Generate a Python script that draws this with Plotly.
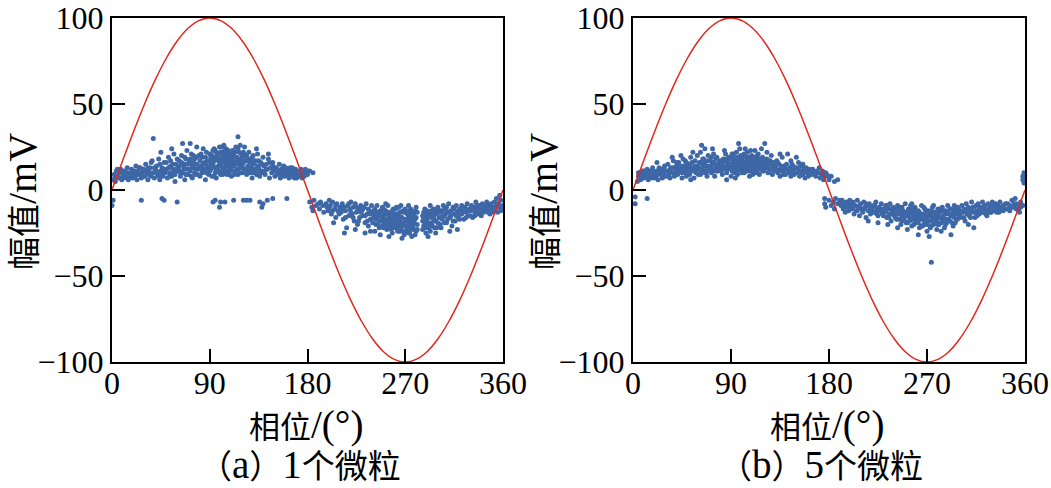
import plotly.graph_objects as go

# ---------------- data ----------------
sine_phase = list(range(0, 361, 10))
sine_amp = [0, 17.4, 34.2, 50, 64.3, 76.6, 86.6, 94, 98.5, 100, 98.5, 94, 86.6, 76.6, 64.3, 50, 34.2, 17.4,
            0, -17.4, -34.2, -50, -64.3, -76.6, -86.6, -94, -98.5, -100, -98.5, -94, -86.6, -76.6, -64.3, -50, -34.2, -17.4, 0]

# panel (a): 1 particle, (phase deg, amplitude mV)
a_pos = [(1,6),(2,9),(3,5),(4,11),(5,8),(6,7),(7,10),(8,12),(9,6),(10,9),
(11,7),(12,11),(13,8),(14,13),(15,6),(16,10),(17,9),(18,12),(19,7),(20,10),
(21,8),(22,14),(23,6),(24,11),(25,9),(26,13),(27,7),(28,10),(29,12),(30,8),
(31,15),(32,9),(33,6),(34,11),(35,13),(36,8),(37,17),(38,10),(39,7),(40,12),(38,30),
(41,14),(42,9),(43,18),(44,6),(45,11),(46,13),(47,8),(48,16),(49,10),(50,12),(45,22),
(51,7),(52,19),(53,10),(54,14),(55,8),(56,12),(57,21),(58,9),(59,15),(60,11),(55,24),(58,5),
(61,13),(62,17),(63,8),(64,20),(65,10),(66,14),(67,6),(68,18),(69,12),(70,9),(65,27),(69,23),(62,11),(67,15),
(71,16),(72,11),(73,21),(74,7),(75,13),(76,18),(77,9),(78,15),(79,12),(80,20),(72,27),(78,25),(74,14),(76,10),
(81,8),(82,14),(83,19),(84,11),(85,16),(86,6),(87,22),(88,13),(89,9),(90,17),(84,24),(82,12),(86,15),(88,10),
(91,12),(92,20),(93,15),(94,8),(95,23),(96,11),(97,18),(98,14),(99,25),(100,9),(91,16),(93,19),(95,13),(97,21),(99,10),(94,24),(96,7),(98,17),
(101,22),(102,13),(103,17),(104,10),(105,24),(106,15),(107,19),(108,12),(109,21),(110,8),(101,11),(103,26),(105,14),(107,11),(109,16),(102,19),(104,23),(106,9),
(111,14),(112,20),(113,11),(114,25),(115,17),(116,9),(117,22),(118,13),(119,18),(120,10),(111,23),(113,16),(115,12),(117,15),(119,21),(116,31),(118,26),
(121,16),(122,12),(123,20),(124,9),(125,14),(126,22),(127,11),(128,18),(129,7),(130,15),(122,25),(124,17),(126,13),(128,10),(130,20),
(131,12),(132,17),(133,9),(134,21),(135,13),(136,8),(137,16),(138,11),(139,19),(140,14),(133,24),(137,10),
(141,9),(142,15),(143,12),(144,18),(145,7),(146,13),(147,10),(148,16),(149,11),(150,8),(144,21),(148,14),
(151,13),(152,9),(153,11),(154,15),(155,7),(156,12),(157,10),(158,14),(159,8),(160,11),
(161,9),(162,12),(163,7),(164,13),(165,10),(166,8),(167,11),(168,9),(169,12),(170,7),
(171,10),(172,8),(173,11),(174,9),(175,7),(176,10),(177,8),(178,12),(180,9),(182,11),(185,10),
(1,-6),(0,-9),(27,-6),(46,-5),(48,-6),(60,-7),(93,-7),(95,-6),(99,-10),(100,-7),(104,-7),(112,-6),
(121,-6),(124,-6),(127,-6),(136,-7),(138,-10),(139,-8),(143,-6),(148,-5),(161,-5)]

a_pos_core = [(62,14),(63,10),(64,16),(66,12),(67,19),(68,9),(70,15),(71,12),(72,18),(73,8),(75,16),(75,20),(77,12),(78,19),(79,9),(80,14),
(81,17),(82,21),(83,10),(84,15),(85,12),(86,19),(87,10),(88,17),(89,14),(90,11),(90,21),(91,19),(92,14),(92,8),(93,23),(94,17),(95,10),
(96,19),(96,22),(97,13),(98,20),(98,11),(99,16),(100,22),(100,14),(101,18),(101,25),(102,16),(102,9),(103,13),(103,21),(104,18),(105,11),
(105,19),(106,21),(106,17),(107,14),(107,23),(108,18),(108,9),(109,13),(110,15),(110,20),(111,11),(111,18),(112,14),(113,22),(113,9),
(114,15),(115,19),(116,12),(116,24),(117,18),(118,10),(118,16),(119,13),(120,19),(120,14),(121,22),(122,17),(123,11),(124,20),(125,18),
(126,10),(127,16),(128,13),(129,19),(130,10),(131,16),(132,11),(134,14),(135,17),(136,11),(138,15),(140,10),(142,12),(145,16),(147,13),(150,12),
(3,8),(5,12),(8,7),(10,11),(13,10),(16,7),(18,9),(21,11),(23,9),(25,13),(27,10),(29,8),(31,11),(33,13),(35,9),(36,16),(39,13),(41,11),
(43,8),(44,15),(46,10),(48,12),(50,16),(52,13),(53,8),(54,17),(56,15),(57,10),(59,12),(60,18),
(152,12),(154,10),(156,8),(158,11),(160,13),(162,9),(164,11),(166,13),(168,7),(170,11),(172,10),(174,12),(176,8),(178,10),(180,11)]

a_neg = [(182,-7),(184,-10),(186,-6),(188,-9),(190,-8),(185,-12),
(191,-11),(192,-7),(194,-9),(195,-13),(197,-8),(198,-10),(200,-6),(199,-12),
(201,-9),(202,-14),(203,-7),(205,-11),(206,-16),(207,-8),(208,-12),(210,-10),(204,-19),
(211,-13),(212,-8),(213,-17),(214,-10),(215,-12),(216,-22),(217,-9),(218,-15),(219,-11),(220,-7),(214,-25),
(221,-14),(222,-10),(223,-18),(224,-8),(225,-13),(226,-20),(227,-11),(228,-16),(229,-9),(230,-12),(224,-23),
(231,-15),(232,-10),(233,-19),(234,-8),(235,-14),(236,-21),(237,-12),(238,-17),(239,-9),(240,-13),(233,-25),(238,-24),
(241,-16),(242,-11),(243,-20),(244,-9),(245,-14),(246,-22),(247,-12),(248,-18),(249,-10),(250,-15),(242,-24),(247,-26),(244,-17),(249,-21),
(251,-19),(252,-12),(253,-23),(254,-9),(255,-16),(256,-21),(257,-13),(258,-25),(259,-11),(260,-18),(251,-14),(253,-17),(255,-27),(257,-20),(259,-15),(252,-8),
(261,-22),(262,-14),(263,-19),(264,-10),(265,-24),(266,-16),(267,-20),(268,-12),(269,-26),(270,-17),(261,-11),(263,-15),(265,-13),(267,-28),(269,-21),(262,-18),(264,-23),(266,-9),
(271,-13),(272,-22),(273,-16),(274,-25),(275,-11),(276,-19),(277,-14),(278,-23),(279,-17),(280,-10),(281,-20),(272,-18),(274,-12),(276,-27),(278,-15),(280,-24),(273,-9),(275,-21),
(286,-15),(287,-21),(288,-11),(289,-25),(290,-17),(291,-13),(292,-22),(293,-9),(294,-19),(295,-14),(287,-17),(289,-12),(291,-27),(293,-20),(286,-23),
(296,-11),(297,-18),(298,-14),(299,-22),(300,-10),(301,-16),(302,-20),(303,-12),(304,-17),(305,-9),(298,-25),(302,-13),
(306,-15),(307,-11),(308,-19),(309,-13),(310,-8),(311,-16),(312,-12),(313,-21),(314,-10),(315,-14),(316,-18),(317,-9),(318,-13),(319,-16),(320,-11),(311,-24),(318,-23),
(321,-14),(322,-9),(323,-12),(324,-17),(325,-10),(326,-13),(327,-8),(328,-15),(329,-11),(330,-12),(331,-9),(332,-16),(333,-10),(334,-13),(335,-7),(336,-11),(337,-14),(338,-9),(339,-12),(340,-10),
(341,-8),(342,-13),(343,-10),(344,-12),(345,-7),(346,-11),(347,-9),(348,-14),(349,-8),(350,-10),(351,-12),(352,-7),(353,-11),(354,-9),(355,-13),(356,-8),(357,-10),(358,-6),(359,-11),(360,-9),(354,-5),(357,-3)]

a_neg_core = [(200,-10),(203,-12),(206,-9),(209,-14),(212,-11),(215,-16),(218,-8),(220,-13),(222,-16),(225,-10),(227,-18),(229,-13),
(231,-11),(233,-15),(235,-18),(236,-11),(238,-14),(240,-19),(241,-12),(242,-15),(243,-17),(244,-13),(245,-20),(246,-15),(247,-18),(248,-13),
(249,-16),(250,-22),(250,-11),(251,-17),(252,-21),(253,-14),(254,-19),(254,-13),(255,-22),(256,-15),(256,-18),(257,-23),(258,-16),(258,-12),
(259,-20),(260,-14),(260,-22),(261,-17),(262,-21),(262,-10),(263,-24),(264,-16),(264,-20),(265,-18),(266,-22),(266,-13),(267,-16),(268,-24),
(268,-19),(269,-13),(270,-21),(270,-11),(271,-18),(271,-24),(272,-14),(273,-20),(273,-25),(274,-18),(275,-15),(275,-23),(276,-13),(277,-21),
(277,-17),(278,-19),(279,-12),(279,-26),(280,-16),(281,-13),(281,-23),(286,-18),(287,-13),(288,-20),(288,-15),(289,-18),(290,-22),(290,-12),
(291,-19),(292,-15),(293,-24),(294,-12),(294,-16),(295,-21),(296,-16),(297,-13),(297,-22),(298,-18),(299,-12),(300,-19),(301,-13),(302,-16),
(303,-22),(304,-12),(305,-15),(306,-19),(307,-14),(308,-10),(309,-17),(310,-13),(312,-15),(314,-18),(315,-11),(317,-15),(319,-12),(320,-17),
(322,-14),(324,-11),(326,-16),(328,-12),(330,-15),(332,-11),(334,-15),(336,-9),(338,-13),(340,-15),(342,-11),(344,-9),(346,-13),(348,-11),
(350,-13),(352,-10),(355,-8),(358,-12)]

# panel (b): 5 particles
b_pos = [(5,8),(6,10),(7,6),(8,9),(9,11),(10,7),(4,5),
(11,10),(12,8),(13,12),(14,6),(15,9),(16,11),(17,7),(18,13),(19,9),(20,10),(22,16),
(21,8),(22,11),(23,6),(24,13),(25,9),(26,10),(27,7),(28,12),(29,14),(30,8),
(31,11),(32,15),(33,9),(34,7),(35,13),(36,10),(37,17),(38,8),(39,12),(40,14),(36,19),
(41,9),(42,16),(43,11),(44,13),(45,7),(46,18),(47,10),(48,14),(49,8),(50,12),(44,20),(48,17),
(51,15),(52,9),(53,19),(54,11),(55,13),(56,7),(57,17),(58,10),(59,14),(60,12),(55,22),(59,20),(53,6),
(61,16),(62,9),(63,26),(64,12),(65,18),(66,10),(67,14),(68,8),(69,20),(70,13),(62,22),(66,24),(64,15),(68,11),
(71,17),(72,10),(73,15),(74,21),(75,8),(76,13),(77,19),(78,11),(79,16),(80,12),(73,24),(77,14),
(81,14),(82,9),(83,18),(84,12),(85,21),(86,10),(87,16),(88,13),(89,19),(90,8),(84,23),(88,15),(82,17),(86,6),
(91,15),(92,11),(93,19),(94,13),(95,22),(96,9),(97,17),(98,14),(99,20),(100,12),(91,18),(93,10),(95,16),(97,27),(99,13),(92,21),(94,7),(96,14),(98,24),
(101,16),(102,10),(103,19),(104,13),(105,22),(106,11),(107,17),(108,14),(109,20),(110,9),(101,12),(103,24),(105,15),(107,8),(109,18),(102,21),(104,16),(106,13),(108,23),
(111,15),(112,10),(113,18),(114,12),(115,21),(116,9),(117,16),(118,13),(119,19),(120,11),(112,23),(114,17),(116,14),(118,24),(120,15),
(121,27),(122,13),(123,18),(124,10),(125,15),(126,12),(127,20),(128,9),(129,14),(130,11),(123,22),(127,16),
(131,13),(132,17),(133,10),(134,15),(135,8),(136,12),(137,19),(138,11),(139,14),(140,9),(135,21),
(141,12),(142,21),(143,10),(144,13),(145,8),(146,15),(147,11),(148,9),(149,13),(150,19),(145,17),
(151,10),(152,12),(153,8),(154,14),(155,11),(156,9),(157,13),(158,7),(159,11),(160,10),(162,12),(164,9),(152,16),(156,15),
(166,11),(168,8),(170,10),(172,7),(174,11),(176,8),(178,9),(180,6),(182,8),(185,5),(188,6),(171,13),(175,6),
(2,-4),(2,-8),(13,-5),(358,8),(358,6),(359,4),(359,10)]

b_pos_core = [(5,10),(8,7),(10,11),(12,9),(14,10),(16,8),(18,11),(20,7),(22,9),(24,10),(26,12),(28,9),(30,11),(32,8),(34,12),(35,10),
(37,13),(39,10),(40,16),(42,12),(43,14),(45,10),(46,14),(47,12),(49,16),(50,10),(52,14),(53,12),(54,16),(56,11),(57,14),(58,12),(60,9),
(61,13),(62,16),(63,11),(64,18),(65,13),(66,16),(67,10),(68,14),(69,17),(70,11),(71,14),(72,19),(73,12),(74,16),(75,11),(76,18),(77,11),
(78,15),(79,13),(80,17),(81,11),(82,15),(83,13),(84,17),(85,14),(86,18),(87,12),(88,19),(89,15),(90,13),(90,18),(91,11),(91,21),(92,16),
(93,13),(93,17),(94,19),(94,11),(95,14),(96,17),(96,11),(97,19),(97,14),(98,12),(98,17),(99,15),(100,18),(100,10),(101,14),(101,20),(102,16),
(103,12),(103,16),(104,19),(104,11),(105,17),(106,15),(106,19),(107,13),(108,17),(108,11),(109,15),(110,18),(110,13),(111,12),(111,19),
(112,16),(113,14),(114,20),(114,10),(115,16),(116,18),(117,12),(118,15),(119,11),(120,17),(121,13),(122,16),(124,14),(125,11),(126,17),
(128,12),(129,16),(130,14),(132,12),(133,16),(134,11),(136,14),(138,9),(139,12),(141,15),(143,12),(144,10),(146,12),(147,14),(149,10),
(151,13),(153,11),(155,9),(157,11),(159,13),(161,8),(163,10),(165,12),(167,9),(169,11),(173,9),(177,10),(179,8)]

b_neg = [(176,-5),(176,-8),(177,-10),(180,-6),(182,-9),(184,-7),(186,-5),(188,-8),(190,-6),(185,-11),
(191,-9),(192,-6),(193,-11),(194,-8),(195,-13),(196,-7),(197,-10),(198,-12),(199,-6),(200,-9),
(201,-11),(202,-7),(203,-14),(204,-9),(205,-12),(206,-6),(207,-10),(208,-15),(209,-8),(210,-11),
(211,-13),(212,-7),(213,-10),(214,-16),(215,-9),(216,-12),(217,-8),(218,-14),(219,-11),(220,-10),(216,-18),
(221,-9),(222,-13),(223,-7),(224,-11),(225,-15),(226,-10),(227,-12),(228,-8),(229,-14),(230,-11),(225,-19),
(231,-13),(232,-9),(233,-16),(234,-11),(235,-14),(236,-8),(237,-18),(238,-12),(239,-10),(240,-15),(234,-20),
(241,-11),(242,-17),(243,-9),(244,-14),(245,-12),(246,-20),(247,-10),(248,-16),(249,-13),(250,-8),(243,-22),(247,-15),
(251,-14),(252,-19),(253,-11),(254,-16),(255,-9),(256,-21),(257,-13),(258,-17),(259,-10),(260,-15),(252,-23),(254,-12),(258,-20),(256,-8),
(261,-18),(262,-12),(263,-22),(264,-14),(265,-9),(266,-17),(267,-20),(268,-11),(269,-15),(270,-24),(261,-13),(263,-16),(265,-21),(267,-10),(269,-19),(262,-26),
(271,-12),(272,-18),(273,-14),(274,-21),(275,-10),(276,-16),(277,-19),(278,-13),(279,-23),(280,-11),(272,-27),(274,-15),(276,-9),(278,-17),(280,-20),(274,-42),
(281,-16),(282,-13),(283,-19),(284,-10),(285,-15),(286,-22),(287,-12),(288,-17),(289,-9),(290,-14),(283,-24),(287,-20),
(291,-18),(292,-11),(293,-15),(294,-21),(295,-9),(296,-13),(297,-17),(298,-10),(299,-14),(300,-12),(292,-26),(296,-19),
(301,-16),(302,-9),(303,-13),(304,-11),(305,-18),(306,-8),(307,-14),(308,-10),(309,-15),(310,-12),(311,-7),(312,-13),(313,-10),(314,-16),(315,-9),(308,-20),(313,-22),
(316,-12),(317,-8),(318,-14),(319,-10),(320,-11),(321,-7),(322,-13),(323,-9),(324,-12),(325,-15),(326,-8),(327,-11),(328,-10),(329,-13),(330,-7),
(331,-10),(332,-12),(333,-8),(334,-11),(335,-9),(336,-13),(337,-7),(338,-10),(340,-12),(342,-8),(344,-11),(346,-9),(348,-6),(350,-10),(352,-8),(354,-11),(356,-7),(358,-9),(355,-13),(351,-5)]

b_neg_core = [(190,-8),(194,-10),(198,-8),(202,-10),(206,-12),(208,-9),(212,-11),(214,-8),(218,-10),(220,-13),(222,-9),(224,-14),(226,-12),
(228,-11),(230,-15),(232,-12),(234,-9),(235,-16),(237,-11),(238,-14),(240,-12),(241,-16),(242,-13),(244,-17),(245,-10),(246,-14),(247,-18),
(248,-12),(249,-17),(250,-13),(251,-19),(252,-15),(253,-12),(254,-18),(255,-14),(256,-17),(257,-11),(258,-15),(259,-19),(260,-12),(261,-16),
(262,-19),(263,-13),(264,-17),(265,-15),(266,-21),(267,-14),(268,-18),(269,-12),(270,-16),(270,-20),(271,-15),(272,-13),(273,-18),(273,-22),
(274,-12),(275,-17),(276,-20),(277,-13),(278,-15),(279,-18),(280,-14),(281,-20),(282,-11),(283,-16),(284,-18),(285,-12),(286,-17),(287,-14),
(288,-19),(289,-13),(290,-17),(291,-11),(292,-15),(293,-19),(294,-13),(295,-16),(296,-11),(297,-14),(298,-17),(299,-11),(300,-15),(302,-13),
(304,-16),(306,-12),(308,-14),(310,-16),(312,-10),(314,-13),(316,-15),(318,-11),(320,-13),(322,-10),(324,-14),(326,-11),(328,-13),(330,-9),
(332,-11),(334,-13),(336,-10),(338,-12),(340,-9),(342,-11),(344,-8),(346,-12),(348,-10),(350,-8),(352,-11),(354,-9),(356,-10)]

x_ticks = [0, 90, 180, 270, 360]
y_ticks = [-100, -50, 0, 50, 100]
x_title = ["相位", "/(°)"]
y_title = ["幅值", "/mV"]
captions = [["（", "a", "）", "1", "个微粒"], ["（", "b", "）", "5", "个微粒"]]

# ---------------- style ----------------
BLUE = "#3d67a6"
RED = "#e0281f"
FONT = "Liberation Serif, 'Noto Sans CJK SC', serif"
W, H = 1051, 488
CJK_PX = 31
LAT_PX = 39

def cjk(s, px=CJK_PX):
    return f"<span style='font-size:{px}px'>{s}</span>"

fig = go.Figure()

panels = [(a_pos + a_pos_core + a_neg + a_neg_core, "x", "y"),
          (b_pos + b_pos_core + b_neg + b_neg_core, "x2", "y2")]
for pts, xa, ya in panels:
    fig.add_trace(go.Scatter(x=[p[0] for p in pts], y=[p[1] for p in pts], mode="markers",
                             marker=dict(size=5, color=BLUE, line=dict(width=0)),
                             xaxis=xa, yaxis=ya, showlegend=False, cliponaxis=True))
    fig.add_trace(go.Scatter(x=sine_phase, y=sine_amp, mode="lines",
                             line=dict(color=RED, width=1.5, shape="spline", smoothing=1.0),
                             xaxis=xa, yaxis=ya, showlegend=False))

def xpx(p):
    return p / W

def ypx(p):
    return 1 - p / H

dom_a = [xpx(112), xpx(503)]
dom_b = [xpx(633), xpx(1025)]
ydom = [ypx(362), ypx(18)]

axis_common = dict(showgrid=False, zeroline=False, showline=True, linecolor="black", linewidth=2,
                   mirror=True, ticks="inside", ticklen=13, tickwidth=2, tickcolor="black",
                   automargin=False,
                   tickfont=dict(family=FONT, size=32, color="black"))

for i, dom in enumerate([dom_a, dom_b]):
    sfx = "" if i == 0 else str(i + 1)
    fig.layout["xaxis" + sfx] = dict(domain=dom, range=[0, 360], tickvals=x_ticks,
                                     anchor="y" + sfx, ticklabelstandoff=-8, **axis_common)
    fig.layout["yaxis" + sfx] = dict(domain=ydom, range=[-100, 100], tickvals=y_ticks,
                                     anchor="x" + sfx, **axis_common)

annotations = []
for i, (cx, ylab_x) in enumerate([(306, 23), (827, 544)]):
    xt = cjk(x_title[0]) + x_title[1]
    yt = cjk(y_title[0], 33) + y_title[1]
    c = captions[i]
    cap = cjk(c[0], 33) + c[1] + cjk(c[2], 33) + c[3] + cjk(c[4], 33)
    annotations.append(dict(text=xt, x=xpx(cx), y=ypx(425), xref="paper", yref="paper",
                            showarrow=False, font=dict(family=FONT, size=LAT_PX, color="black"),
                            xanchor="center", yanchor="middle"))
    annotations.append(dict(text=cap, x=xpx(cx - 6), y=ypx(464), xref="paper", yref="paper",
                            showarrow=False, font=dict(family=FONT, size=LAT_PX, color="black"),
                            xanchor="center", yanchor="middle"))
    annotations.append(dict(text=yt, x=xpx(ylab_x), y=ypx(202), xref="paper", yref="paper",
                            showarrow=False, textangle=-90, font=dict(family=FONT, size=40, color="black"),
                            xanchor="center", yanchor="middle"))

fig.update_layout(width=W, height=H, margin=dict(l=0, r=0, t=0, b=0),
                  paper_bgcolor="white", plot_bgcolor="white", annotations=annotations,
                  font=dict(family=FONT, color="black"))

fig.write_html("out.html")
